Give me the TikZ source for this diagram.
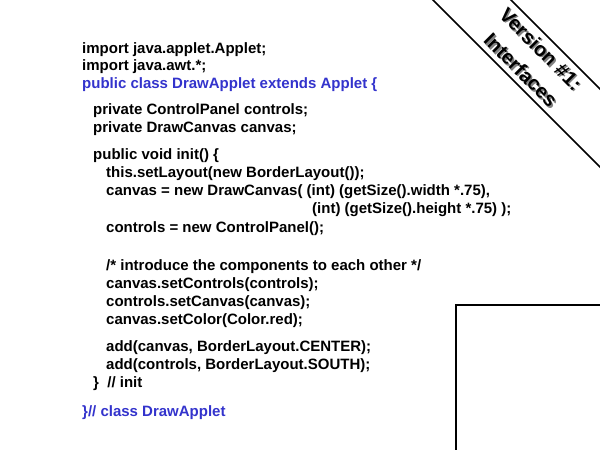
\documentclass[tikz,border=0pt]{standalone}
\usepackage{fontspec}
\setmainfont{Liberation Sans}
\definecolor{codeblue}{RGB}{51,51,204}

\begin{document}
\begin{tikzpicture}[x=1pt,y=-1pt,
	code/.style={anchor=base west,inner sep=0pt,font=\fontsize{15}{17}\selectfont\bfseries},
	titre/.style={rotate=-45,inner sep=0pt,font=\fontsize{20}{22}\selectfont\bfseries}]
						\useasboundingbox (0,0) rectangle (600,450);
						% Bandeau
						\draw [line width=1.5] (431,-2) -- (602,169);
						\draw [line width=1.5] (509,-2) -- (602,91);
						\node [titre,gray] (vs) at (542.5,50.5) {Version \#1:};
						\node [titre] (v) at (541,49) {Version \#1:};
						\node [titre,gray] (is) at (522.5,71.5) {Interfaces};
						\node [titre] (i) at (521,70) {Interfaces};
						% Cadre
						\draw [line width=2.5] (456,452) -- (456,305) -- (602,305);
						% Code
						\node [code] (imp1) at (82,53) {import java.applet.Applet;};
						\node [code] (imp2) at (82,70.5) {import java.awt.*;};
						\node [code,codeblue] (cls) at (82,88) {public class DrawApplet extends Applet \{};
						\node [code] (ctl) at (93,114) {private ControlPanel controls;};
						\node [code] (cnv) at (93,132) {private DrawCanvas canvas;};
						\node [code] (init) at (93,159) {public void init() \{};
						\node [code] (lay) at (106,177) {this.setLayout(new BorderLayout());};
						\node [code] (new1) at (106,195) {canvas = new DrawCanvas( (int) (getSize().width *.75),};
						\node [code] (new2) at (312,213.5) {(int) (getSize().height *.75) );};
						\node [code] (new3) at (106,232) {controls = new ControlPanel();};
						\node [code] (com) at (106,270) {/* introduce the components to each other */};
						\node [code] (set1) at (106,288) {canvas.setControls(controls);};
						\node [code] (set2) at (106,306) {controls.setCanvas(canvas);};
						\node [code] (set3) at (106,324) {canvas.setColor(Color.red);};
						\node [code] (add1) at (106,351) {add(canvas, BorderLayout.CENTER);};
						\node [code] (add2) at (106,369) {add(controls, BorderLayout.SOUTH);};
						\node [code] (fin1) at (93,387) {\}\ \ // init};
						\node [code,codeblue] (fin2) at (82,416) {\}// class DrawApplet};
						\end{tikzpicture}
\end{document}
